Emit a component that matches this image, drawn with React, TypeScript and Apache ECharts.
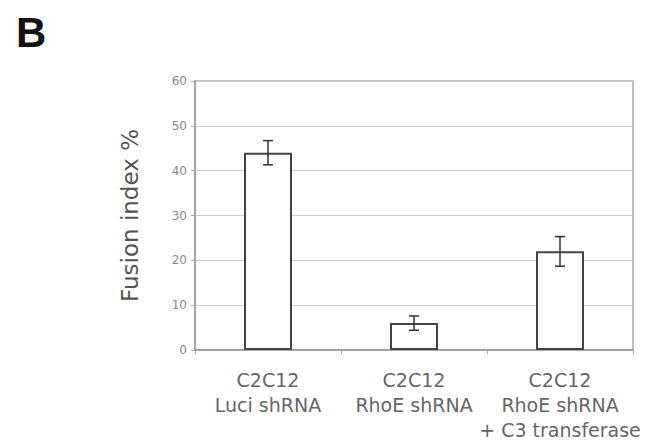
import React, { useEffect, useRef } from "react";
import * as echarts from "echarts";

const categories = ["C2C12\nLuci shRNA", "C2C12\nRhoE shRNA", "C2C12\nRhoE shRNA\n+ C3 transferase"];
const values = [44, 6, 22];
const errors = [2.7, 1.6, 3.3];
const yTicks = { min: 0, max: 60, interval: 10 };

const FONT = "DejaVu Sans, Liberation Sans, sans-serif";

export default function App() {
  const ref = useRef<HTMLDivElement>(null);
  useEffect(() => {
    const chart = echarts.init(ref.current!, undefined, { renderer: "svg" });
    chart.setOption({
      animation: false,
      backgroundColor: "#fff",
      textStyle: { fontFamily: FONT },
      graphic: [
        {
          type: "text",
          left: 16,
          top: 11,
          style: { text: "B", fontSize: 42, fontWeight: "bold", fill: "#111", fontFamily: "Liberation Sans, Arial, sans-serif" },
        },
      ],
      grid: { left: 195, top: 81, right: 22, bottom: 94, show: true, borderColor: "#aaa", borderWidth: 1.5 },
      xAxis: {
        type: "category",
        data: categories,
        axisLine: { lineStyle: { color: "#999", width: 1.5 } },
        axisTick: { show: true, length: 4, lineStyle: { color: "#aaa" } },
        axisLabel: { interval: 0, hideOverlap: false, color: "#666", fontSize: 19, lineHeight: 25, margin: 17, fontFamily: FONT },
      },
      yAxis: {
        type: "value",
        min: yTicks.min,
        max: yTicks.max,
        interval: yTicks.interval,
        name: "Fusion index %",
        nameLocation: "middle",
        nameGap: 54,
        nameTextStyle: { color: "#555", fontSize: 23, fontFamily: FONT },
        axisLine: { show: true, lineStyle: { color: "#999", width: 1.5 } },
        axisTick: { show: true, length: 4, lineStyle: { color: "#aaa" } },
        axisLabel: { color: "#888", fontSize: 12, margin: 8, fontFamily: FONT },
        splitLine: { lineStyle: { color: "#ccc", width: 1.2 } },
      },
      series: [
        {
          type: "bar",
          data: values,
          barWidth: 48,
          itemStyle: { color: "#fff", borderColor: "#444", borderWidth: 2 },
        },
        {
          type: "custom",
          data: values.map((v, i) => [i, v - errors[i], v + errors[i]]),
          z: 10,
          renderItem: (params: any, api: any) => {
            const x = api.value(0);
            const lo = api.coord([x, api.value(1)]);
            const hi = api.coord([x, api.value(2)]);
            const cap = 5;
            const style = { stroke: "#333", lineWidth: 1.5 };
            return {
              type: "group",
              children: [
                { type: "line", shape: { x1: hi[0], y1: hi[1], x2: lo[0], y2: lo[1] }, style },
                { type: "line", shape: { x1: hi[0] - cap, y1: hi[1], x2: hi[0] + cap, y2: hi[1] }, style },
                { type: "line", shape: { x1: lo[0] - cap, y1: lo[1], x2: lo[0] + cap, y2: lo[1] }, style },
              ],
            };
          },
        },
      ],
    });
    return () => chart.dispose();
  }, []);
  return <div ref={ref} style={{ width: 655, height: 444, position: "absolute", left: 0, top: 0 }} />;
}
